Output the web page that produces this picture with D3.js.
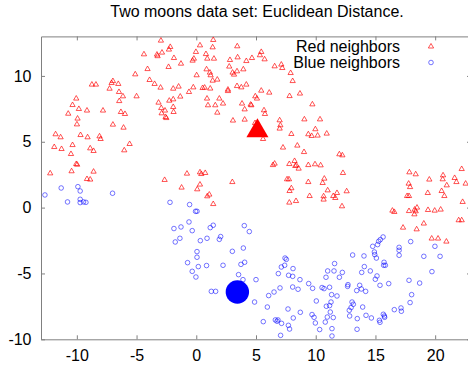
<!doctype html>
<html>
  <head>
    <meta charset="utf-8">
    <title>Two moons</title>
    <script src="https://d3js.org/d3.v7.min.js"></script>
    <style>
      body { margin: 0; background: #fff; }
      text { font-family: "Liberation Sans", Arial, sans-serif; fill: #000; }
    </style>
  </head>
  <body>
  <script>
    // upper moon
    var redPoints = [
      [-2.96,12.68],[-2.18,12.2],[-2.29,12.0],[-2.87,11.77],[-3.29,11.62],[-3.24,11.5],[-4.38,11.64],[-1.87,11.36],
      [-1.28,10.93],[-2.32,10.68],[-4.08,10.52],[-5.11,10.12],[-3.91,9.69],[-6.98,9.61],[-7.09,9.46],[-3.49,9.39],
      [-8.74,9.34],[-8.4,9.34],[-6.53,9.39],[-7.26,9.03],[-2.99,9.11],[-1.48,9.19],[-1.93,9.03],[-0.61,8.78],
      [-6.47,8.78],[-6.14,8.45],[-10.05,8.28],[-5.0,8.45],[-1.34,8.43],[-2.26,8.12],[-1.93,8.22],[-6.45,8.09],
      [-3.16,7.97],[-10.36,7.79],[-9.83,7.49],[-9.15,7.37],[-7.81,7.37],[-2.93,7.56],[-2.62,7.37],[-1.93,7.64],
      [-6.31,7.26],[-5.97,7.11],[-10.72,7.13],[-2.9,7.16],[-1.9,7.26],[-2.57,6.88],[-2.51,6.8],[-9.94,6.76],
      [-9.99,6.32],[-6.98,6.3],[-6.09,6.07],[-11.78,5.57],[-11.36,5.34],[-9.69,5.51],[-9.1,5.34],[-8.1,5.41],
      [-8.01,5.21],[-5.58,4.83],[-10.36,4.75],[-11.89,4.6],[-11.28,4.45],[-8.88,4.5],[-8.6,4.3],[-6.03,4.35],
      [-10.49,4.07],[-10.05,3.31],[-9.97,3.26],[-12.23,2.6],[-10.44,2.76],[-8.6,2.73],[-9.15,2.17],[-8.88,2.13],
      [-0.78,2.58],[-2.65,2.1],[-1.23,1.52],
      [1.42,12.73],[0.31,12.32],[3.43,12.25],[1.37,12.17],[-0.03,11.82],[0.81,11.66],[5.44,11.82],[5.33,11.57],
      [-0.2,11.31],[-0.31,11.16],[0.92,11.31],[1.48,11.31],[2.82,11.21],[3.46,11.41],[4.19,11.13],[4.66,11.36],
      [5.72,11.26],[2.76,10.71],[6.56,10.73],[7.12,10.86],[7.2,10.6],[0.86,10.5],[3.94,10.5],[1.14,10.25],
      [1.2,10.05],[3.04,10.25],[3.16,10.1],[3.41,10.35],[0.03,10.05],[7.9,10.22],[1.76,9.72],[1.37,9.64],
      [8.07,9.61],[-0.25,9.13],[0.53,9.08],[0.7,9.11],[1.17,9.04],[2.65,8.96],[2.65,8.85],[3.41,9.23],
      [3.77,9.13],[4.19,9.34],[5.44,8.88],[6.11,8.73],[7.81,8.47],[8.68,8.66],[0.9,8.28],[1.93,8.28],
      [4.94,8.45],[5.08,8.28],[9.72,7.84],[0.98,7.77],[1.59,7.77],[2.24,7.9],[3.83,7.9],[4.55,7.82],
      [4.61,7.77],[1.76,7.21],[4.05,7.46],[5.67,7.39],[5.75,7.11],[3.07,6.61],[4.05,6.68],[6.98,6.63],
      [9.05,6.7],[10.36,6.7],[7.04,6.25],[6.98,6.0],[4.92,6.42],[9.97,5.95],[7.96,5.59],[9.38,5.57],
      [9.66,5.44],[10.16,5.47],[10.92,5.62],[5.59,5.21],[7.26,4.56],[8.46,4.71],[9.02,4.22],[6.56,3.34],
      [6.42,3.23],[7.79,3.31],[8.23,3.54],[8.38,3.21],[8.57,2.96],[8.29,3.16],[9.38,3.23],[9.94,3.29],
      [10.41,3.21],[0.31,2.68],[0.42,2.55],[0.75,2.63],[3.02,1.94],[0.31,1.75],[0.08,1.39],[7.6,2.15],
      [7.76,2.15],[9.38,1.94],[10.72,2.2],[10.58,1.87],[7.96,1.47],[7.81,1.26],[11.0,1.31],[1.09,0.99],
      [11.98,4.05],[12.23,3.97],[12.28,2.63],[11.78,1.11],[12.59,1.24],[17.84,2.68],[18.37,2.53],[22.22,2.93],
      [17.78,1.82],[17.9,1.56],[19.51,2.13],[20.66,2.45],[20.63,2.15],[21.63,2.25],[21.78,1.94],[20.97,1.69],
      [22.55,1.82],[19.38,1.11],[20.54,1.26],
      [0.92,0.86],[1.42,0.27],[7.79,0.38],[8.35,0.5],[9.49,0.88],[10.66,0.86],[10.66,0.61],[11.47,0.88],
      [11.64,0.73],[12.2,0.1],[17.65,0.88],[17.81,0.88],[20.77,0.88],[22.3,0.43],[16.42,-0.23],[16.58,-0.33],
      [17.81,-0.26],[18.28,-0.15],[18.48,0.0],[18.37,-0.28],[18.26,-0.51],[19.4,-0.18],[19.96,-0.23],[20.46,-0.15],
      [19.05,-1.21],[17.31,-1.52],[18.45,-1.65],[21.97,-0.96],[22.22,-0.96],[19.71,-2.35],[20.24,-2.35],[20.94,-2.58]
    ];

    // lower moon
    var bluePoints = [
      [-12.67,0.96],[-11.31,1.49],[-9.91,1.59],[-9.72,1.26],[-7.01,1.09],
      [-10.78,0.43],[-9.72,0.63],[-9.72,0.38],[-9.44,0.43],[-9.24,0.4],[-2.2,0.4],[-0.56,0.23],[-0.61,-1.09],
      [-1.87,-1.59],[-1.28,-1.47],[-1.76,-2.61],[-1.37,-2.33],[-0.73,-4.18],
      [-0.06,-0.28],[0.06,-0.28],[-0.34,-1.75],[1.17,-1.52],[1.42,-1.34],[4.02,-1.37],[4.44,-1.82],[0.34,-2.51],
      [0.9,-2.33],[1.93,-2.41],[2.04,-2.2],[3.02,-3.32],[3.94,-3.07],[0.06,-3.34],[0.06,-3.77],[0.17,-4.48],
      [0.86,-4.4],[2.24,-4.38],[3.74,-4.31],[4.05,-4.15],[-0.34,-4.84],[-0.03,-5.27],[3.54,-5.09],[3.91,-5.47],
      [5.0,-5.47],[1.26,-6.36],[1.62,-6.36],[4.88,-7.17],[5.95,-7.55],[6.06,-6.68],[6.51,-6.41],[7.01,-6.1],
      [5.61,-8.66],[6.62,-8.53],[6.76,-8.63],[6.84,-8.53],[7.14,-8.79],[7.71,-8.94],[7.81,-9.22],[7.06,-9.7],
      [7.43,-3.83],[7.54,-3.93],[7.12,-4.51],[7.4,-4.38],[6.87,-5.01],[7.73,-5.14],[8.07,-5.22],[8.1,-4.63],
      [8.68,-5.47],[8.07,-6.03],[8.52,-6.2],[9.41,-5.77],[9.74,-6.13],[10.53,-6.07],[10.7,-6.15],[11.16,-6.05],
      [11.0,-4.81],[11.53,-4.81],[10.86,-5.29],[10.05,-7.09],[11.33,-6.61],[11.28,-7.17],[11.16,-7.44],[10.89,-7.49],
      [7.68,-7.7],[8.71,-7.95],[8.12,-8.38],[9.69,-8.12],[9.86,-8.33],[9.97,-8.76],[10.33,-9.26],[10.8,-8.69],
      [10.97,-8.31],[11.22,-7.93],[11.36,-9.19],[11.36,-9.75],[11.58,-4.25],
      [15.64,-2.23],[15.41,-2.43],[15.27,-2.56],[15.18,-2.81],[14.77,-2.94],[14.91,-3.37],[14.94,-3.57],[15.08,-3.83],
      [13.09,-3.6],[14.04,-3.67],[15.72,-4.15],[15.69,-4.38],[15.83,-4.38],[14.07,-4.48],[13.85,-4.92],[12.23,-4.92],
      [14.57,-4.81],[11.98,-5.29],[15.13,-5.19],[14.99,-5.44],[15.38,-5.9],[16.11,-5.77],[16.98,-3.02],[16.98,-3.24],
      [16.98,-3.62],[17.95,-2.58],[19.05,-3.7],[19.98,-2.94],[20.41,-3.7],[19.73,-4.86],[17.81,-5.52],[18.7,-5.73],
      [12.7,-5.85],[12.67,-5.98],[13.68,-5.9],[13.82,-6.18],[14.18,-6.36],[13.43,-6.3],[11.78,-6.71],[13.04,-7.17],
      [13.15,-7.34],[12.96,-7.59],[13.93,-7.55],[12.81,-7.8],[12.84,-8.23],[11.47,-8.35],[13.48,-8.43],[14.21,-8.18],
      [14.66,-8.38],[15.66,-8.1],[15.75,-8.23],[15.77,-8.33],[15.33,-8.56],[15.38,-8.71],[16.58,-7.75],[17.14,-7.62],
      [17.17,-7.87],[17.9,-7.21],[18.03,-6.61],[13.46,-9.24]
    ];

    // the two highlighted points
    var redQuery = [[5.12, 5.82]];
    var blueQuery = [[3.44, -6.41]];

    var xTicks = [-10, -5, 0, 5, 10, 15, 20];
    var yTicks = [-10, -5, 0, 5, 10];
    var legendLabels = ["Red neighbors", "Blue neighbors"];
    var title = "Two moons data set: Euclidean Distance.";

    var W = 468, H = 369;
    var mLeft = 41, mTop = 36.4, plotW = 430, plotH = 302.9;

    var svg = d3.select("body").append("svg").attr("width", W).attr("height", H);

    var x = d3.scaleLinear().domain([-13, 23]).range([mLeft, mLeft + plotW]);
    var y = d3.scaleLinear().domain([-10, 13]).range([mTop + plotH, mTop]);

    var frame = "#808080";
    var fmt = function(d){ return String(d); };

    function styleAxis(g, labels) {
      g.select(".domain").attr("stroke", frame);
      g.selectAll(".tick line").attr("stroke", frame);
      if (!labels) g.selectAll(".tick text").remove();
      else g.selectAll(".tick text").style("font-size", "16px").attr("fill", "#000");
    }

    svg.append("g")
        .attr("transform", "translate(0," + (mTop + plotH) + ")")
        .call(d3.axisBottom(x).tickValues(xTicks).tickFormat(fmt).tickSize(-4).tickPadding(10.8).tickSizeOuter(0))
        .call(styleAxis, true);

    svg.append("g")
        .attr("transform", "translate(0," + mTop + ")")
        .call(d3.axisTop(x).tickValues(xTicks).tickSize(-4).tickSizeOuter(0))
        .call(styleAxis, false);

    svg.append("g")
        .attr("transform", "translate(" + mLeft + ",0)")
        .call(d3.axisLeft(y).tickValues(yTicks).tickFormat(fmt).tickSize(-4).tickPadding(9.5).tickSizeOuter(0))
        .call(styleAxis, true);

    svg.append("g")
        .attr("transform", "translate(" + (mLeft + plotW) + ",0)")
        .call(d3.axisRight(y).tickValues(yTicks).tickSize(-4).tickSizeOuter(0))
        .call(styleAxis, false);

    var smallTri = d3.symbol().type(d3.symbolTriangle).size(12);

    var plot = svg.append("g");

    plot.selectAll(".red").data(redPoints).enter().append("path")
        .attr("class", "red")
        .attr("d", smallTri)
        .attr("transform", function(d){ return "translate(" + x(d[0]) + "," + y(d[1]) + ")"; })
        .attr("fill", "none")
        .attr("stroke", "#ff0000")
        .attr("stroke-opacity", 0.75)
        .attr("stroke-width", 0.9);

    plot.selectAll(".blue").data(bluePoints).enter().append("circle")
        .attr("class", "blue")
        .attr("cx", function(d){ return x(d[0]); })
        .attr("cy", function(d){ return y(d[1]); })
        .attr("r", 2.3)
        .attr("fill", "none")
        .attr("stroke", "#0000ff")
        .attr("stroke-opacity", 0.6)
        .attr("stroke-width", 0.9);

    plot.selectAll(".rq").data(redQuery).enter().append("path")
        .attr("d", d3.symbol().type(d3.symbolTriangle).size(210))
        .attr("transform", function(d){ return "translate(" + x(d[0]) + "," + y(d[1]) + ")"; })
        .attr("fill", "#ff0000");

    plot.selectAll(".bq").data(blueQuery).enter().append("circle")
        .attr("cx", function(d){ return x(d[0]); })
        .attr("cy", function(d){ return y(d[1]); })
        .attr("r", 11.7)
        .attr("fill", "#0000ff");

    svg.append("text")
        .attr("x", 257).attr("y", 17)
        .attr("text-anchor", "middle")
        .style("font-size", "16px")
        .text(title);

    var legend = svg.append("g");
    legend.selectAll("text").data(legendLabels).enter().append("text")
        .attr("x", 400)
        .attr("y", function(d, i){ return 51.5 + i * 16; })
        .attr("text-anchor", "end")
        .style("font-size", "16px")
        .text(function(d){ return d; });

    legend.append("path")
        .attr("d", smallTri)
        .attr("transform", "translate(431,46.5)")
        .attr("fill", "none").attr("stroke", "#ff0000").attr("stroke-opacity", 0.75).attr("stroke-width", 0.9);

    legend.append("circle")
        .attr("cx", 431).attr("cy", 62.5).attr("r", 2.3)
        .attr("fill", "none").attr("stroke", "#0000ff").attr("stroke-opacity", 0.6).attr("stroke-width", 0.9);
  </script>
  </body>
</html>
